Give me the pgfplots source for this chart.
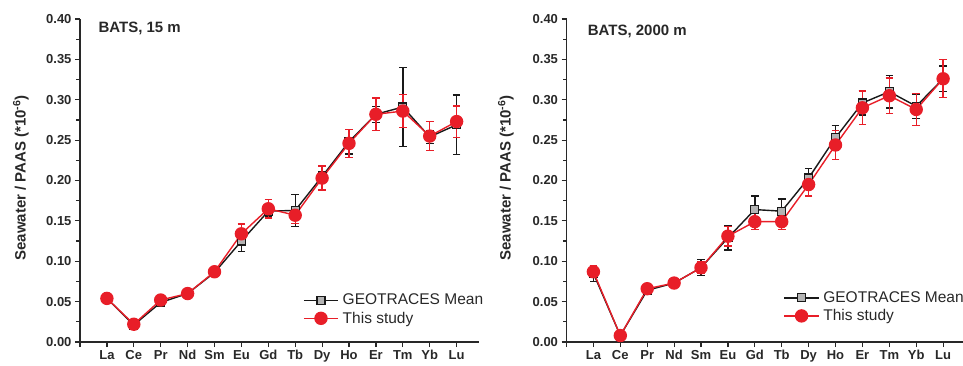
\documentclass[border=0pt]{standalone}
\usepackage{pgfplots}
\pgfplotsset{compat=1.18}
\usepackage{pgfplotstable}
\usepackage{fontspec}
\setmainfont{Liberation Sans}
\definecolor{myred}{RGB}{232,30,40}
\definecolor{mygray}{RGB}{180,180,180}
\definecolor{axgray}{RGB}{40,40,40}

% Panel 1: BATS, 15 m
\pgfplotstableread{
x y e
1 0.054 0.003
2 0.021 0.002
3 0.049 0.002
4 0.060 0.002
5 0.086 0.003
6 0.125 0.013
7 0.162 0.006
8 0.163 0.020
9 0.205 0.006
10 0.248 0.015
11 0.282 0.010
12 0.291 0.049
13 0.254 0.008
14 0.269 0.037
}\geoA
\pgfplotstableread{
x y e
1 0.054 0.002
2 0.022 0.002
3 0.052 0.002
4 0.060 0.002
5 0.087 0.003
6 0.134 0.012
7 0.165 0.0115
8 0.157 0.0105
9 0.203 0.015
10 0.246 0.0175
11 0.282 0.020
12 0.286 0.0205
13 0.255 0.018
14 0.273 0.0195
}\studyA
% Panel 2: BATS, 2000 m
\pgfplotstableread{
x y e
1 0.085 0.010
2 0.008 0.002
3 0.064 0.002
4 0.073 0.002
5 0.092 0.010
6 0.129 0.015
7 0.164 0.017
8 0.162 0.015
9 0.203 0.012
10 0.253 0.015
11 0.296 0.015
12 0.310 0.020
13 0.292 0.015
14 0.326 0.016
}\geoB
\pgfplotstableread{
x y e
1 0.087 0.007
2 0.008 0.002
3 0.066 0.003
4 0.073 0.002
5 0.092 0.007
6 0.131 0.012
7 0.149 0.010
8 0.149 0.010
9 0.195 0.014
10 0.244 0.018
11 0.290 0.021
12 0.305 0.022
13 0.288 0.020
14 0.326 0.0235
}\studyB

\pgfplotsset{
  reeaxis/.style={
    x=26.9pt, y=807.5pt, xmin=0, ymin=0, ymax=0.4,
    anchor=origin, clip=false,
    axis lines=left, axis line style={-, line width=1.5pt, draw=axgray},
    tick align=outside, tick style={line width=1.2pt, draw=axgray},
    major tick length=5pt, minor tick length=3.5pt,
    xtick={0,1,2,3,4,5,6,7,8,9,10,11,12,13,14},
    xticklabels={{},La,Ce,Pr,Nd,Sm,Eu,Gd,Tb,Dy,Ho,Er,Tm,Yb,Lu},
    ytick={0,0.05,0.10,0.15,0.20,0.25,0.30,0.35,0.40},
    minor y tick num=1,
    /pgf/number format/assume math mode=true,
    yticklabel style={/pgf/number format/fixed, /pgf/number format/fixed zerofill, /pgf/number format/precision=2},
    ticklabel style={font=\bfseries\fontsize{13}{13}\selectfont, text=axgray},
    ylabel={Seawater / PAAS (*10\textsuperscript{-6})},
    ylabel style={font=\bfseries\fontsize{15}{15}\selectfont, anchor=center, text=axgray},
    legend style={draw=none, fill=none, anchor=north west, inner sep=0pt,
      font=\fontsize{15.5}{18}\selectfont, text=axgray, cells={anchor=west}, row sep=1.5pt,
      /tikz/every odd column/.append style={column sep=2pt}},
    legend image code/.code={\draw[mark repeat=2,mark phase=2,##1] plot coordinates {(0cm,0cm) (0.6cm,0cm) (1.2cm,0cm)};},
  },
  geo/.style={color=black!90, line width=1.4pt, mark=square*, mark size=4pt,
    mark options={fill=mygray, draw=black!90, line width=1.2pt},
    error bars/.cd, y dir=both, y explicit,
    error bar style={line width=1.4pt, black!90},
    error mark options={rotate=90, mark size=3.8pt, line width=1.4pt, black!90}},
  stud/.style={color=myred, line width=1.4pt, mark=*, mark size=6pt,
    mark options={fill=myred, draw=myred},
    error bars/.cd, y dir=both, y explicit,
    error bar style={line width=1.4pt, myred},
    error mark options={rotate=90, mark size=3.8pt, line width=1.4pt, myred}},
}

\begin{document}
\begin{tikzpicture}
\begin{axis}[reeaxis, at={(80pt,23pt)}, xmax=14.85,
  ylabel style={at={(axis description cs:-0.148,0.508)}},
  legend style={at={(axis cs:8.29,0.062)}}]
\addplot[geo] table[x=x, y=y, y error=e] {\geoA};
\addlegendentry{GEOTRACES Mean}
\addplot[stud] table[x=x, y=y, y error=e] {\studyA};
\addlegendentry{This study}
\node[anchor=base west, font=\bfseries\fontsize{15}{15}\selectfont, text=axgray] at (axis cs:0.56,0.383) {BATS, 15 m};
\end{axis}
\begin{axis}[reeaxis, at={(566.5pt,23pt)}, xmax=14.74,
  ylabel style={at={(axis description cs:-0.153,0.508)}},
  legend style={at={(axis cs:8.07,0.065)}}]
\addplot[geo] table[x=x, y=y, y error=e] {\geoB};
\addlegendentry{GEOTRACES Mean}
\addplot[stud] table[x=x, y=y, y error=e] {\studyB};
\addlegendentry{This study}
\node[anchor=base west, font=\bfseries\fontsize{15}{15}\selectfont, text=axgray] at (axis cs:0.66,0.380) {BATS, 2000 m};
\end{axis}
\pgfresetboundingbox
\path[use as bounding box] (0pt,0pt) rectangle (963pt,365pt);
\end{tikzpicture}
\end{document}
